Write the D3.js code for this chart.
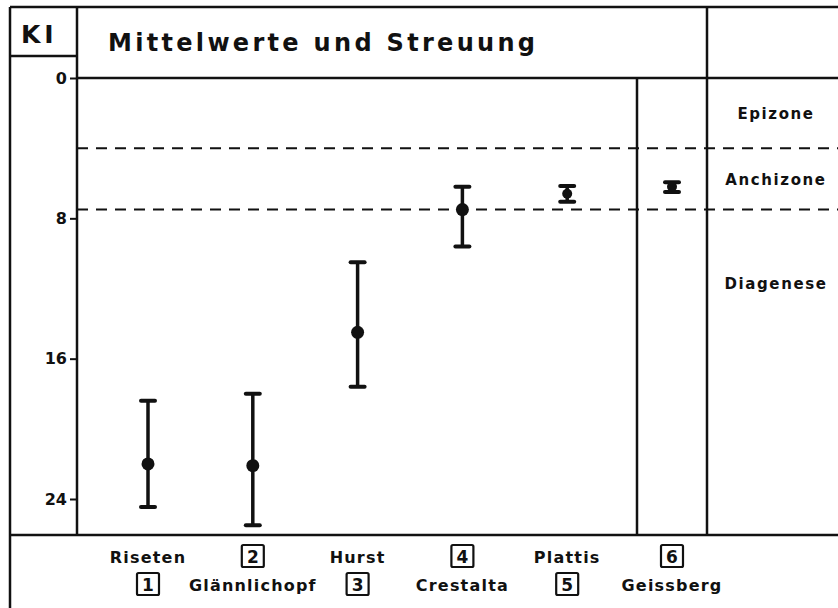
<!DOCTYPE html>
<html>
<head>
<meta charset="utf-8">
<script src="https://cdn.jsdelivr.net/npm/d3@7"></script>
<style>
  html, body { margin: 0; padding: 0; background: #fff; }
  svg text { font-family: "DejaVu Sans", "Liberation Sans", Arial, sans-serif; font-weight: bold; fill: #111; }
</style>
</head>
<body>
<svg id="chart" width="838" height="608"></svg>
<script>
// ── Data ────────────────────────────────────────────────────────────────────
const sites  = ['Riseten', 'Glännlichopf', 'Hurst', 'Crestalta', 'Plattis', 'Geissberg'];
const means  = [22.0, 22.1, 14.5, 7.5, 6.6, 6.2];
const upper  = [18.4, 18.0, 10.5, 6.2, 6.15, 5.95];   // top whisker (lower KI)
const lower  = [24.45, 25.5, 17.6, 9.6, 7.05, 6.5];   // bottom whisker (higher KI)
const yTicks = [0, 8, 16, 24];
const zoneBounds = [4.0, 7.5];
const zoneNames  = ['Epizone', 'Anchizone', 'Diagenese'];

const W = 838, H = 608;
const ink = '#111';
const FONT = '"DejaVu Sans", "Liberation Sans", Arial, sans-serif';
const svg = d3.select('#chart');

// Scales
const x = d3.scaleLinear().domain([0, sites.length - 1]).range([148, 672]);
const y = d3.scaleLinear().domain([0, 24]).range([78, 499]);

// ── Frame ───────────────────────────────────────────────────────────────────
const L = 10, TOP = 7, AX = 77, BOT = 535, SPLIT = 637, ZONE = 707;
const frame = [
  [L, TOP, W, TOP],
  [L, TOP, L, H],
  [AX, TOP, AX, BOT],
  [L, 56, AX, 56],
  [AX, y(0), W, y(0)],
  [L, BOT, W, BOT],
  [SPLIT, y(0), SPLIT, BOT],
  [ZONE, TOP, ZONE, BOT]
];
svg.append('g').selectAll('line')
  .data(frame)
  .join('line')
  .attr('x1', d => d[0]).attr('y1', d => d[1])
  .attr('x2', d => d[2]).attr('y2', d => d[3])
  .attr('stroke', ink).attr('stroke-width', 2.5);

// Header texts
svg.append('text').attr('x', 21).attr('y', 43)
  .attr('font-size', 25).attr('letter-spacing', 4).text('KI');
svg.append('text').attr('x', 108).attr('y', 51)
  .attr('font-size', 24)
  .attr('textLength', 427).attr('lengthAdjust', 'spacing')
  .text('Mittelwerte  und  Streuung');

// ── Y axis ──────────────────────────────────────────────────────────────────
const axis = svg.append('g')
  .attr('transform', `translate(${AX},0)`)
  .call(d3.axisLeft(y).tickValues(yTicks).tickSize(7).tickPadding(3));
axis.select('.domain').remove();
axis.selectAll('line').attr('stroke', ink).attr('stroke-width', 2);
axis.selectAll('text')
  .attr('font-size', 16).attr('font-family', FONT)
  .attr('font-weight', 'bold').attr('fill', ink);

// ── Zone boundaries ─────────────────────────────────────────────────────────
svg.append('g').selectAll('line')
  .data(zoneBounds)
  .join('line')
  .attr('x1', AX).attr('x2', W)
  .attr('y1', d => y(d)).attr('y2', d => y(d))
  .attr('stroke', ink).attr('stroke-width', 2)
  .attr('stroke-dasharray', '11,8');

const zoneY = [y(zoneBounds[0] / 2), y((zoneBounds[0] + zoneBounds[1]) / 2), y(11.7)];
svg.append('g').selectAll('text')
  .data(zoneNames)
  .join('text')
  .attr('x', 776).attr('y', (d, i) => zoneY[i] + 6)
  .attr('text-anchor', 'middle')
  .attr('font-size', 15).attr('letter-spacing', 1.6)
  .text(d => d);

// ── Error bars ──────────────────────────────────────────────────────────────
const bars = svg.append('g').selectAll('g')
  .data(sites.map((s, i) => ({ s, i, m: means[i], lo: upper[i], hi: lower[i] })))
  .join('g');

bars.append('line')
  .attr('x1', d => x(d.i)).attr('x2', d => x(d.i))
  .attr('y1', d => y(d.lo)).attr('y2', d => y(d.hi))
  .attr('stroke', ink).attr('stroke-width', 3.5);

bars.selectAll('line.cap')
  .data(d => [[d.i, d.lo], [d.i, d.hi]])
  .join('line')
  .attr('class', 'cap')
  .attr('x1', d => x(d[0]) - 7).attr('x2', d => x(d[0]) + 7)
  .attr('y1', d => y(d[1])).attr('y2', d => y(d[1]))
  .attr('stroke', ink).attr('stroke-width', 4).attr('stroke-linecap', 'round');

bars.append('circle')
  .attr('cx', d => x(d.i)).attr('cy', d => y(d.m))
  .attr('r', d => d.hi - d.lo < 2 ? 5 : 6.5)
  .attr('fill', ink);

// ── Legend ──────────────────────────────────────────────────────────────────
const rowY = [563, 591];
const legend = svg.append('g').selectAll('g')
  .data(sites)
  .join('g')
  .attr('transform', (d, i) => `translate(${x(i)},0)`);

// names: odd-numbered sites on the first row, even on the second
legend.append('text')
  .attr('x', 0).attr('y', (d, i) => rowY[i % 2])
  .attr('text-anchor', 'middle')
  .attr('font-size', 16).attr('letter-spacing', 1.2)
  .text(d => d);

legend.append('rect')
  .attr('x', -11).attr('y', (d, i) => rowY[(i + 1) % 2] - 18)
  .attr('width', 22).attr('height', 22).attr('rx', 1.5)
  .attr('fill', 'none').attr('stroke', ink).attr('stroke-width', 2.2);

legend.append('text')
  .attr('x', 0).attr('y', (d, i) => rowY[(i + 1) % 2])
  .attr('text-anchor', 'middle')
  .attr('font-size', 17)
  .text((d, i) => i + 1);
</script>
</body>
</html>
